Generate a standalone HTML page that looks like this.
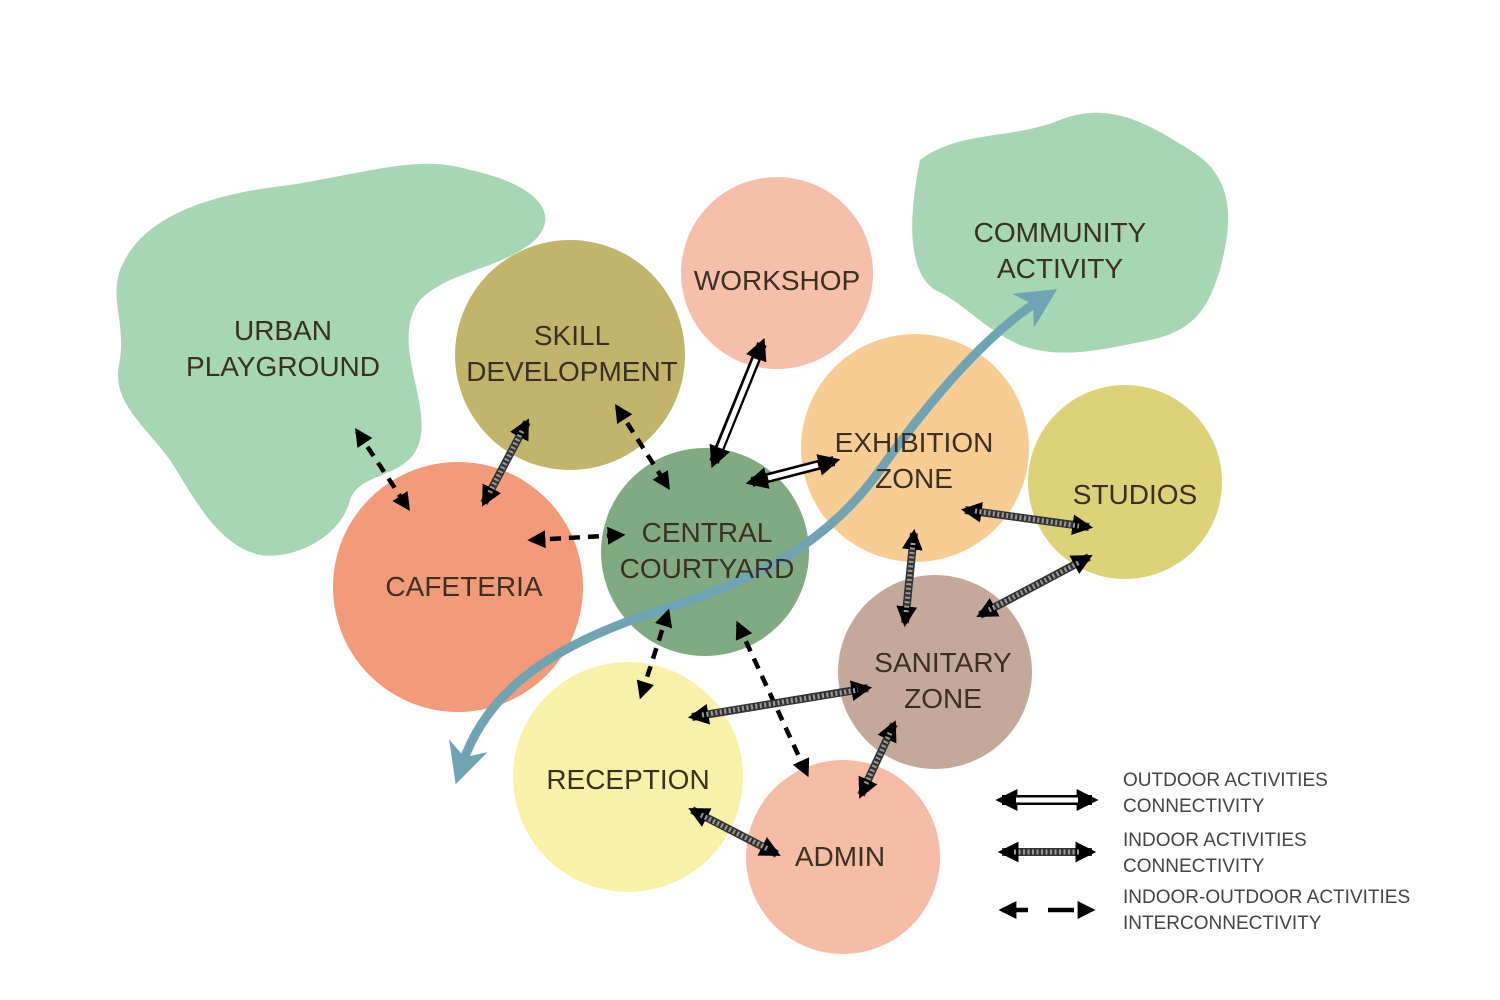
<!DOCTYPE html>
<html><head><meta charset="utf-8"><style>
html,body{margin:0;padding:0;background:#fff;}
svg{display:block}
text{font-family:"Liberation Sans",sans-serif;fill:#3a3024;}
</style></head><body>
<svg width="1500" height="1000" viewBox="0 0 1500 1000" xmlns="http://www.w3.org/2000/svg">
<defs>
<marker id="h" viewBox="0 0 10 10" refX="8" refY="5" markerWidth="4" markerHeight="4" orient="auto-start-reverse" markerUnits="strokeWidth"><path d="M0,0 L10,5 L0,10 z" fill="#000"/></marker>
<marker id="hb" viewBox="0 0 10 10" refX="8" refY="5" markerWidth="2.6" markerHeight="2.6" orient="auto-start-reverse" markerUnits="strokeWidth"><path d="M0,0 L10,5 L0,10 z" fill="#000"/></marker>
<marker id="hw" viewBox="0 0 10 10" refX="7" refY="5" markerWidth="2.2" markerHeight="2.2" orient="auto-start-reverse" markerUnits="strokeWidth"><path d="M0,0 L10,5 L0,10 z" fill="#000"/></marker>
<marker id="bh" viewBox="0 0 10 10" refX="5" refY="5" markerWidth="4.5" markerHeight="4.5" orient="auto-start-reverse" markerUnits="strokeWidth"><path d="M0,0 L10,5 L0,10 L3,5 z" fill="#6fa4b5"/></marker>
</defs>
<path d="M120,270 C140,220 200,195 290,185 C380,170 420,155 470,170 C540,185 560,215 535,240 C500,270 450,270 420,300 C390,340 430,400 420,440 C410,480 360,470 350,500 C340,540 290,560 260,555 C215,545 190,490 170,460 C140,420 110,400 120,360 C125,320 110,300 120,270 Z" fill="#a6d6b3"/>
<path d="M920,160 C960,130 1010,140 1060,120 C1110,100 1150,125 1190,150 C1240,180 1230,230 1220,270 C1210,300 1200,330 1150,340 C1100,350 1060,360 1020,345 C985,330 960,300 935,290 C905,270 910,210 920,160 Z" fill="#a6d6b3"/>
<circle cx="777" cy="273" r="96" fill="#f6bfa9"/>
<circle cx="570" cy="355" r="115" fill="#c2b56b"/>
<circle cx="915" cy="448" r="114" fill="#f8cd93"/>
<circle cx="1125" cy="482" r="97" fill="#ded278"/>
<circle cx="458" cy="587" r="125" fill="#f29a7a"/>
<circle cx="705" cy="552" r="104" fill="#80ab80"/>
<circle cx="628" cy="777" r="115" fill="#f8f1a7"/>
<circle cx="935" cy="672" r="97" fill="#c4a99b"/>
<circle cx="843" cy="857" r="97" fill="#f5bda6"/>
<path d="M1040,300 C985,335 930,400 880,470 C830,540 760,580 660,610 C570,640 490,680 462,765" fill="none" stroke="#6fa4b5" stroke-width="9" marker-start="url(#bh)" marker-end="url(#bh)"/>
<g font-size="28" text-anchor="middle">
<text x="283" y="340">URBAN</text><text x="283" y="376">PLAYGROUND</text>
<text x="572" y="345">SKILL</text><text x="572" y="381">DEVELOPMENT</text>
<text x="777" y="290">WORKSHOP</text>
<text x="1060" y="242">COMMUNITY</text><text x="1060" y="278">ACTIVITY</text>
<text x="914" y="452">EXHIBITION</text><text x="914" y="488">ZONE</text>
<text x="1135" y="504">STUDIOS</text>
<text x="707" y="542">CENTRAL</text><text x="707" y="578">COURTYARD</text>
<text x="464" y="596">CAFETERIA</text>
<text x="943" y="672">SANITARY</text><text x="943" y="708">ZONE</text>
<text x="628" y="789">RECEPTION</text>
<text x="840" y="866">ADMIN</text>
</g>
<g stroke="#000" stroke-width="4.5" stroke-dasharray="11,8" fill="none" marker-start="url(#h)" marker-end="url(#h)">
<line x1="357" y1="431" x2="408" y2="508"/>
<line x1="617" y1="407" x2="668" y2="487"/>
<line x1="531" y1="540" x2="622" y2="535"/>
<line x1="668" y1="612" x2="641" y2="696"/>
<line x1="738" y1="624" x2="807" y2="774"/>
</g>
<g fill="none" marker-start="url(#hb)" marker-end="url(#hb)" stroke="#333" stroke-width="8">
<line x1="527" y1="422" x2="484" y2="503"/>
<line x1="965" y1="510" x2="1089" y2="527"/>
<line x1="914" y1="533" x2="905" y2="623"/>
<line x1="980" y1="615" x2="1089" y2="557"/>
<line x1="692" y1="717" x2="868" y2="688"/>
<line x1="894" y1="724" x2="861" y2="795"/>
<line x1="692" y1="810" x2="777" y2="854"/>
</g>
<g fill="none" stroke="#999" stroke-width="5" stroke-dasharray="2,2.5">
<line x1="522" y1="431" x2="489" y2="494"/>
<line x1="975" y1="511" x2="1079" y2="526"/>
<line x1="913" y1="543" x2="906" y2="613"/>
<line x1="989" y1="610" x2="1080" y2="562"/>
<line x1="702" y1="715" x2="858" y2="690"/>
<line x1="890" y1="733" x2="865" y2="786"/>
<line x1="701" y1="815" x2="768" y2="849"/>
</g>
<g fill="none">
<line x1="762" y1="344" x2="714" y2="462" stroke="#000" stroke-width="10" marker-start="url(#hw)" marker-end="url(#hw)"/>
<line x1="756" y1="359" x2="720" y2="448" stroke="#fff" stroke-width="5"/>
<line x1="752" y1="482" x2="834" y2="461" stroke="#000" stroke-width="10" marker-start="url(#hw)" marker-end="url(#hw)"/>
<line x1="768" y1="478" x2="818" y2="465" stroke="#fff" stroke-width="5"/>
</g>
<line x1="1002" y1="800" x2="1092" y2="800" stroke="#000" stroke-width="10" marker-start="url(#hw)" marker-end="url(#hw)"/>
<line x1="1016" y1="800" x2="1078" y2="800" stroke="#fff" stroke-width="5"/>
<line x1="1002" y1="852" x2="1092" y2="852" stroke="#333" stroke-width="8" marker-start="url(#hb)" marker-end="url(#hb)"/>
<line x1="1014" y1="852" x2="1080" y2="852" stroke="#999" stroke-width="5" stroke-dasharray="2,2.5"/>
<line x1="1002" y1="910" x2="1092" y2="910" stroke="#000" stroke-width="4.5" stroke-dasharray="26,20" marker-start="url(#h)" marker-end="url(#h)"/>
<g font-size="19">
<text x="1123" y="786" style="fill:#444">OUTDOOR ACTIVITIES</text>
<text x="1123" y="812" style="fill:#444">CONNECTIVITY</text>
<text x="1123" y="846" style="fill:#444">INDOOR ACTIVITIES</text>
<text x="1123" y="872" style="fill:#444">CONNECTIVITY</text>
<text x="1123" y="903" style="fill:#444">INDOOR-OUTDOOR ACTIVITIES</text>
<text x="1123" y="929" style="fill:#444">INTERCONNECTIVITY</text>
</g>
</svg>
</body></html>
